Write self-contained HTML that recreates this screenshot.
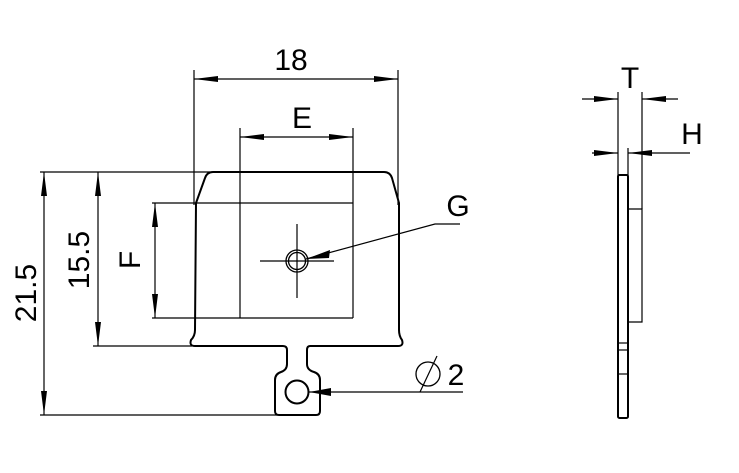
<!DOCTYPE html>
<html><head><style>
html,body{margin:0;padding:0;background:#fff;width:739px;height:473px;overflow:hidden}
text{font-family:"Liberation Sans",sans-serif;fill:#000}
</style></head><body>
<svg width="739" height="473" viewBox="0 0 739 473" xmlns="http://www.w3.org/2000/svg">
<defs>
<marker id="a" markerWidth="24" markerHeight="8" refX="24" refY="4" orient="auto-start-reverse" markerUnits="userSpaceOnUse">
<path d="M0,1 L24,4 L0,7 Z" fill="#000"/></marker>
</defs>
<g stroke="#000" fill="none" stroke-width="1.2">
<line x1="194" y1="70" x2="194" y2="205"/>
<line x1="398" y1="70" x2="398" y2="205"/>
<line x1="240" y1="128" x2="240" y2="318"/>
<line x1="353" y1="128" x2="353" y2="318"/>
<line x1="152" y1="203" x2="353" y2="203"/>
<line x1="152" y1="318" x2="353" y2="318"/>
<line x1="40" y1="172" x2="210" y2="172"/>
<line x1="93" y1="346" x2="192" y2="346"/>
<line x1="40" y1="415" x2="277" y2="415"/>
<line x1="194" y1="79" x2="398" y2="79" marker-start="url(#a)" marker-end="url(#a)"/>
<line x1="240" y1="137" x2="353" y2="137" marker-start="url(#a)" marker-end="url(#a)"/>
<line x1="155" y1="203" x2="155" y2="318" marker-start="url(#a)" marker-end="url(#a)"/>
<line x1="98" y1="172" x2="98" y2="346" marker-start="url(#a)" marker-end="url(#a)"/>
<line x1="44" y1="172" x2="44" y2="415" marker-start="url(#a)" marker-end="url(#a)"/>
<line x1="260" y1="261" x2="334" y2="261"/>
<line x1="297" y1="224" x2="297" y2="298"/>
<polyline points="460,224 435,224 306,259"/>
<line x1="463" y1="392" x2="309" y2="392"/>
<line x1="437" y1="356" x2="420" y2="392"/>
</g>
<g stroke="#000" fill="none" stroke-width="2">
<path d="M196,203 L205,178 Q207,172 213,172 L384,172 Q390,172 392,178 L399,203 L399,330 Q399,336 402,340 Q404,346 398,346 L310,346 Q307,346 307,350 L307,364 Q307,370 314,372 Q320,374 320,380 L320,411 Q320,415 316,415 L279,415 Q275,415 275,411 L275,380 Q275,374 281,372 Q287,370 287,364 L287,350 Q287,346 283,346 L195,346 Q189,346 191,340 Q195,336 195,330 Z"/>
<circle cx="297" cy="392" r="11.5"/>
</g>
<circle cx="297" cy="261" r="11" stroke="#000" stroke-width="1.3" fill="none"/>
<circle cx="297" cy="261" r="8.5" stroke="#000" stroke-width="1.3" fill="none"/>
<path d="M306,259 L330,250 L329,258 Z" fill="#000"/>
<path d="M309,392 L331,388 L331,396 Z" fill="#000"/>
<circle cx="428" cy="374" r="12" stroke="#000" stroke-width="1.3" fill="none"/>
<text x="291" y="70" font-size="30" text-anchor="middle">18</text>
<text x="302" y="128" font-size="30" text-anchor="middle">E</text>
<text x="458" y="216" font-size="30" text-anchor="middle">G</text>
<text x="456" y="385" font-size="30" text-anchor="middle">2</text>
<text transform="translate(140,260) rotate(-90)" font-size="30" text-anchor="middle">F</text>
<text transform="translate(89,260) rotate(-90)" font-size="30" text-anchor="middle">15.5</text>
<text transform="translate(36,293) rotate(-90)" font-size="30" text-anchor="middle">21.5</text>
<g stroke="#000" fill="none" stroke-width="1.2">
<line x1="618" y1="92" x2="618" y2="176"/>
<line x1="642" y1="92" x2="642" y2="209"/>
<line x1="628" y1="148" x2="628" y2="176"/>
<line x1="582" y1="99" x2="618" y2="99" marker-end="url(#a)"/>
<line x1="678" y1="99" x2="642" y2="99" marker-end="url(#a)"/>
<line x1="592" y1="153" x2="618" y2="153" marker-end="url(#a)"/>
<line x1="690" y1="153" x2="628" y2="153" marker-end="url(#a)"/>
<polyline points="628,209 642,209 642,322 628,322"/>
<line x1="618" y1="343" x2="628" y2="343"/>
<line x1="618" y1="350" x2="628" y2="350"/>
<line x1="618" y1="374" x2="628" y2="374"/>
</g>
<rect x="618" y="175" width="10" height="243" rx="1.5" stroke="#000" stroke-width="2" fill="none"/>
<text x="630" y="88" font-size="30" text-anchor="middle">T</text>
<text x="692" y="144" font-size="30" text-anchor="middle">H</text>
</svg>
</body></html>
